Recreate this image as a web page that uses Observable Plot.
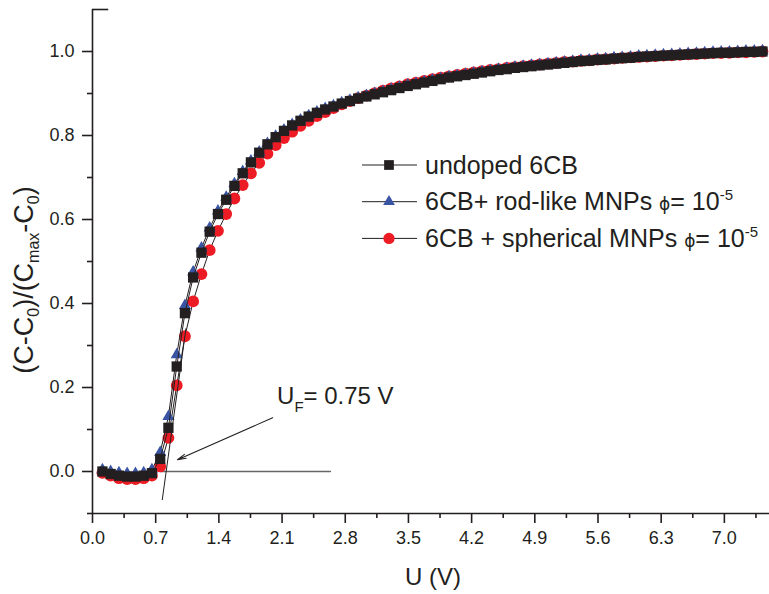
<!DOCTYPE html>
<html><head><meta charset="utf-8">
<script src="https://cdn.jsdelivr.net/npm/d3@7"></script>
<script src="https://cdn.jsdelivr.net/npm/@observablehq/plot@0.6"></script>
<style>
body{margin:0;background:#fff;}
#chart{width:769px;height:594px;}
</style></head><body><div id="chart"></div>
<script>
const U = [0.110,0.201,0.293,0.384,0.476,0.567,0.658,0.750,0.841,0.933,1.024,1.115,1.207,1.298,1.390,1.481,1.572,1.664,1.755,1.847,1.938,2.029,2.121,2.212,2.304,2.395,2.486,2.578,2.669,2.761,2.852,2.943,3.035,3.126,3.218,3.309,3.400,3.492,3.583,3.675,3.766,3.857,3.949,4.040,4.132,4.223,4.314,4.406,4.497,4.589,4.680,4.771,4.863,4.954,5.046,5.137,5.228,5.320,5.411,5.503,5.594,5.685,5.777,5.868,5.960,6.051,6.142,6.234,6.325,6.417,6.508,6.599,6.691,6.782,6.874,6.965,7.056,7.148,7.239,7.331,7.422];
const undoped = [0.000,-0.006,-0.010,-0.012,-0.012,-0.010,-0.004,0.030,0.104,0.250,0.377,0.462,0.521,0.571,0.613,0.647,0.680,0.710,0.736,0.759,0.779,0.796,0.811,0.824,0.835,0.845,0.854,0.862,0.869,0.876,0.882,0.888,0.893,0.898,0.903,0.908,0.913,0.918,0.922,0.926,0.930,0.934,0.938,0.941,0.944,0.947,0.950,0.953,0.956,0.958,0.961,0.963,0.965,0.967,0.969,0.971,0.973,0.975,0.977,0.978,0.980,0.981,0.983,0.984,0.985,0.987,0.988,0.989,0.990,0.991,0.992,0.993,0.994,0.995,0.996,0.997,0.997,0.998,0.999,0.999,1.000];
const rodLike = [0.004,0.000,-0.003,-0.005,-0.005,-0.003,0.004,0.045,0.131,0.278,0.395,0.475,0.532,0.580,0.620,0.653,0.685,0.714,0.739,0.761,0.781,0.798,0.813,0.826,0.837,0.847,0.856,0.864,0.871,0.878,0.884,0.890,0.895,0.900,0.905,0.910,0.915,0.920,0.924,0.928,0.932,0.936,0.940,0.943,0.946,0.949,0.952,0.955,0.958,0.960,0.963,0.965,0.967,0.969,0.971,0.973,0.975,0.977,0.979,0.980,0.982,0.983,0.985,0.986,0.987,0.989,0.990,0.991,0.992,0.993,0.994,0.995,0.996,0.997,0.998,0.999,0.999,1.000,1.001,1.001,1.002];
const spherical = [-0.003,-0.010,-0.016,-0.018,-0.018,-0.016,-0.010,0.012,0.080,0.205,0.322,0.405,0.470,0.527,0.573,0.613,0.650,0.682,0.710,0.735,0.757,0.777,0.794,0.809,0.823,0.835,0.846,0.856,0.865,0.874,0.882,0.889,0.895,0.901,0.907,0.912,0.917,0.922,0.926,0.930,0.934,0.938,0.941,0.944,0.947,0.950,0.953,0.956,0.958,0.961,0.963,0.965,0.967,0.969,0.971,0.973,0.975,0.976,0.978,0.979,0.981,0.982,0.983,0.985,0.986,0.987,0.988,0.989,0.990,0.991,0.992,0.993,0.994,0.995,0.996,0.996,0.997,0.998,0.998,0.999,1.000];

const seriesNames = ["undoped 6CB", "6CB+ rod-like MNPs", "6CB + spherical MNPs"];
const seriesSymbols = ["square", "triangle", "circle"];
const seriesColors = ["#231f20", "#3a54a4", "#ed1c24"];

const xMajorTicks = [0.0,0.7,1.4,2.1,2.8,3.5,4.2,4.9,5.6,6.3,7.0];
const xMinorTicks = [0.35,1.05,1.75,2.45,3.15,3.85,4.55,5.25,5.95,6.65,7.35];
const yMajorTicks = [0.0,0.2,0.4,0.6,0.8,1.0];
const yMinorTicks = [-0.1,0.1,0.3,0.5,0.7,0.9];
const yTopTick = [1.1];

const tangentLine = [{U:0.773, v:-0.067}, {U:1.035, v:0.34}];
const baseLine = [{U:0.75, v:0}, {U:2.636, v:0}];
const arrowLine = [{x1:1.996, y1:0.128, x2:0.942, y2:0.028}];
const annotation = {U:2.05, v:0.159, main:"U", sub:"F", rest:"= 0.75 V"};

const ink = "#231f20";
const toRows = (vals, s) => U.map((u, i) => ({U:u, v:vals[i], s}));
const rowsBlack = toRows(undoped, 0), rowsBlue = toRows(rodLike, 1), rowsRed = toRows(spherical, 2);

const plot = Plot.plot({
  width: 769, height: 594,
  marginLeft: 92, marginRight: 0, marginTop: 9, marginBottom: 81,
  x: {domain: [0, 7.5]},
  y: {domain: [-0.1, 1.1]},
  style: {fontFamily: "'Liberation Sans', Arial, sans-serif", color: ink, background: "white", overflow: "visible"},
  marks: [
    Plot.axisX({ticks: xMajorTicks, tickSize: 10, tickPadding: 8, tickFormat: d => d.toFixed(1), label: null, fontSize: 18, strokeWidth: 1.6}),
    Plot.axisX({ticks: xMinorTicks, tickSize: 5, tickFormat: () => "", label: null, strokeWidth: 1.6}),
    Plot.axisY({ticks: yMajorTicks, tickSize: 10, tickPadding: 8, tickFormat: d => d.toFixed(1), label: null, fontSize: 18, strokeWidth: 1.6}),
    Plot.axisY({ticks: yMinorTicks, tickSize: 5, tickFormat: () => "", label: null, strokeWidth: 1.6}),
    Plot.ruleY(yTopTick, {x1: 0, x2: 0.18, stroke: ink, strokeWidth: 1.6}),
    Plot.ruleY([-0.1], {stroke: ink, strokeWidth: 1.6}),
    Plot.ruleX([0], {stroke: ink, strokeWidth: 1.6}),
    Plot.line(baseLine, {x: "U", y: "v", stroke: "#666", strokeWidth: 1.4}),
    Plot.line(rowsRed, {x: "U", y: "v", stroke: ink, strokeWidth: 1}),
    Plot.dot(rowsRed, {x: "U", y: "v", symbol: () => seriesSymbols[2], fill: seriesColors[2], r: 5.9, stroke: "none"}),
    Plot.line(rowsBlue, {x: "U", y: "v", stroke: ink, strokeWidth: 1}),
    Plot.dot(rowsBlue, {x: "U", y: "v", symbol: () => seriesSymbols[1], fill: seriesColors[1], r: 4.5, stroke: "none"}),
    Plot.line(rowsBlack, {x: "U", y: "v", stroke: ink, strokeWidth: 1}),
    Plot.dot(rowsBlack, {x: "U", y: "v", symbol: () => seriesSymbols[0], fill: seriesColors[0], r: 5.8, stroke: "none"}),
    Plot.line(tangentLine, {x: "U", y: "v", stroke: ink, strokeWidth: 1}),
    Plot.arrow(arrowLine, {x1: "x1", y1: "y1", x2: "x2", y2: "y2", stroke: ink, strokeWidth: 1.1, headLength: 12, headAngle: 28})
  ]
});
document.getElementById("chart").appendChild(plot);

const svg = d3.select(plot);
const sx = plot.scale("x"), sy = plot.scale("y");
const font = "'Liberation Sans', Arial, sans-serif";

// x-axis title
svg.append("text").attr("x", 433).attr("y", 585).attr("text-anchor", "middle")
  .attr("font-family", font).attr("font-size", 24).attr("fill", ink).text("U (V)");

// y-axis title with subscripts
const yt = svg.append("text").attr("transform", "translate(33,280) rotate(-90)")
  .attr("text-anchor", "middle").attr("font-family", font).attr("font-size", 27).attr("fill", ink);
[["(C-C",0],["0",1],[")/(C",0],["max",1],["-C",0],["0",1],[")",0]].forEach(([t, sub], i, arr) => {
  const ts = yt.append("tspan").text(t);
  if (sub) ts.attr("font-size", 16).attr("dy", 6);
  else if (i > 0 && arr[i-1][1]) ts.attr("dy", -6);
});

// annotation text
const at = svg.append("text").attr("x", sx.apply(annotation.U)).attr("y", sy.apply(annotation.v))
  .attr("text-anchor", "start").attr("font-family", font).attr("font-size", 24).attr("fill", ink);
at.append("tspan").text(annotation.main);
at.append("tspan").attr("font-size", 15).attr("dy", 8).text(annotation.sub);
at.append("tspan").attr("dy", -8).text(annotation.rest);

// legend
const legendParts = [
  [{t: seriesNames[0]}],
  [{t: seriesNames[1] + " "}, {t: "ϕ", phi: 1}, {t: "= 10"}, {t: "-5", sup: 1}],
  [{t: seriesNames[2] + " "}, {t: "ϕ", phi: 1}, {t: "= 10"}, {t: "-5", sup: 1}]
];
const symMap = {square: d3.symbolSquare, triangle: d3.symbolTriangle, circle: d3.symbolCircle};
const symSize = [95, 60, 100];
const lg = svg.append("g");
legendParts.forEach((parts, i) => {
  const y = 165 + i * 36.7;
  lg.append("line").attr("x1", 362).attr("x2", 417).attr("y1", y).attr("y2", y).attr("stroke", ink).attr("stroke-width", 1);
  lg.append("path").attr("transform", `translate(389,${y})`)
    .attr("d", d3.symbol(symMap[seriesSymbols[i]], symSize[i])()).attr("fill", seriesColors[i]);
  const tx = lg.append("text").attr("x", 425).attr("y", y + 8.5).attr("text-anchor", "start")
    .attr("font-family", font).attr("font-size", 25).attr("fill", ink);
  parts.forEach((p, j) => {
    const ts = tx.append("tspan").text(p.t);
    if (p.phi) ts.attr("font-size", 17).attr("font-family", "DejaVu Sans");
    if (p.sup) ts.attr("font-size", 15).attr("dy", -10);
  });
});
</script>
</body></html>
